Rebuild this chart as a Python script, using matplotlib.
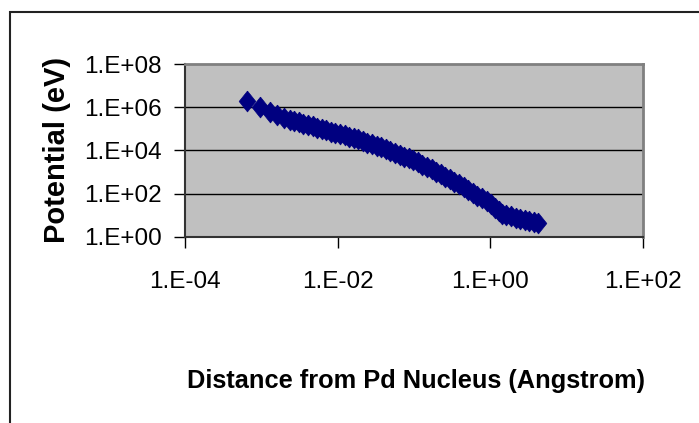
import matplotlib
matplotlib.use('Agg')
import matplotlib.pyplot as plt
from matplotlib.patches import Rectangle
from matplotlib.ticker import FixedLocator, NullLocator, FuncFormatter
import numpy as np

plt.rcParams['font.family'] = ['Liberation Sans', 'DejaVu Sans']

# distance from Pd nucleus (Angstrom) and potential (eV)
distance = [6.5e-4, 9.5e-4, 1.29e-3, 1.62e-3, 2.0e-3, 2.34e-3, 2.7e-3, 3.1e-3,
            3.55e-3, 4.07e-3, 4.7e-3, 5.4e-3, 6.2e-3, 7.1e-3, 8.1e-3, 9.3e-3,
            1.07e-2, 1.23e-2, 1.41e-2, 1.62e-2, 1.86e-2, 2.14e-2, 2.45e-2,
            2.82e-2, 3.24e-2, 3.72e-2, 4.27e-2, 4.9e-2, 5.6e-2, 6.5e-2, 7.4e-2,
            8.5e-2, 9.8e-2, 0.112, 0.129, 0.148, 0.170, 0.195, 0.224, 0.257,
            0.295, 0.339, 0.389, 0.447, 0.513, 0.589, 0.676, 0.776, 0.891,
            1.023, 1.148, 1.288, 1.413, 1.62, 1.86, 2.14, 2.45, 2.82, 3.24,
            3.72, 4.17]
potential = [1.95e6, 1.0e6, 6.3e5, 4.5e5, 3.3e5, 2.6e5, 2.3e5, 2.0e5,
             1.74e5, 1.51e5, 1.30e5, 1.13e5, 9.8e4, 8.5e4, 7.4e4, 6.5e4,
             5.7e4, 5.0e4, 4.45e4, 3.8e4, 3.25e4, 2.75e4, 2.35e4,
             2.0e4, 1.70e4, 1.45e4, 1.20e4, 9.8e3, 7.9e3, 6.5e3, 5.2e3,
             4.3e3, 3.5e3, 2.8e3, 2.2e3, 1.70e3, 1.32e3, 1.02e3, 785, 605,
             468, 360, 279, 210, 153, 112, 81, 60, 44.5,
             31.5, 21.9, 15.1, 11.2, 9.9, 8.7, 7.7, 6.8, 6.0, 5.25,
             4.6, 4.2]

x_ticks = [1e-4, 1e-2, 1e0, 1e2]
y_ticks = [1e0, 1e2, 1e4, 1e6, 1e8]

W, H = 699, 423
fig = plt.figure(figsize=(W / 100, H / 100), dpi=100)
fig.patch.set_facecolor('white')

# outer chart frame (runs off the right and bottom edges)
fig.patches.append(Rectangle((10 / W, -0.1), 1.2, 1 - 12 / H + 0.1,
                             transform=fig.transFigure, fill=False,
                             edgecolor='#222222', linewidth=1.5))

ax = fig.add_axes([185 / W, 1 - 236.7 / H, (643 - 185) / W, (236.7 - 64.3) / H])
ax.set_facecolor('#C0C0C0')
ax.set_xscale('log')
ax.set_yscale('log')
ax.set_xlim(1e-4, 1e2)
ax.set_ylim(1e0, 1e8)

for y in y_ticks[1:-1]:
    ax.axhline(y, color='black', linewidth=1, zorder=1)

# slightly tall diamond like the Excel marker
diamond = [(0, 1), (0.8, 0), (0, -1), (-0.8, 0), (0, 1)]
ax.plot(distance, potential, linestyle='none', marker=diamond, markersize=15,
        color='#000080', markeredgecolor='#000080', markeredgewidth=0.5, zorder=3)

ax.xaxis.set_major_locator(FixedLocator(x_ticks))
ax.yaxis.set_major_locator(FixedLocator(y_ticks))
ax.xaxis.set_minor_locator(NullLocator())
ax.yaxis.set_minor_locator(NullLocator())
fmt = FuncFormatter(lambda v, p: '1.E%+03d' % int(round(np.log10(v))))
ax.xaxis.set_major_formatter(fmt)
ax.yaxis.set_major_formatter(fmt)
ax.tick_params(axis='both', direction='out', length=8, width=1, color='black',
               labelsize=17.5)
ax.tick_params(axis='x', pad=17)
ax.tick_params(axis='y', pad=9)

for side in ['top', 'right']:
    ax.spines[side].set_color('#808080')
    ax.spines[side].set_linewidth(2)
for side in ['left', 'bottom']:
    ax.spines[side].set_color('#333333')
    ax.spines[side].set_linewidth(1.5)

fig.text(416 / W, 1 - 388 / H, 'Distance from Pd Nucleus (Angstrom)',
         ha='center', va='baseline', fontsize=18.3, fontweight='bold')
fig.text(57 / W, 1 - 150 / H, 'Potential (eV)', rotation=90,
         ha='center', va='center', fontsize=21, fontweight='bold')

fig.savefig('out.png', dpi=100)
